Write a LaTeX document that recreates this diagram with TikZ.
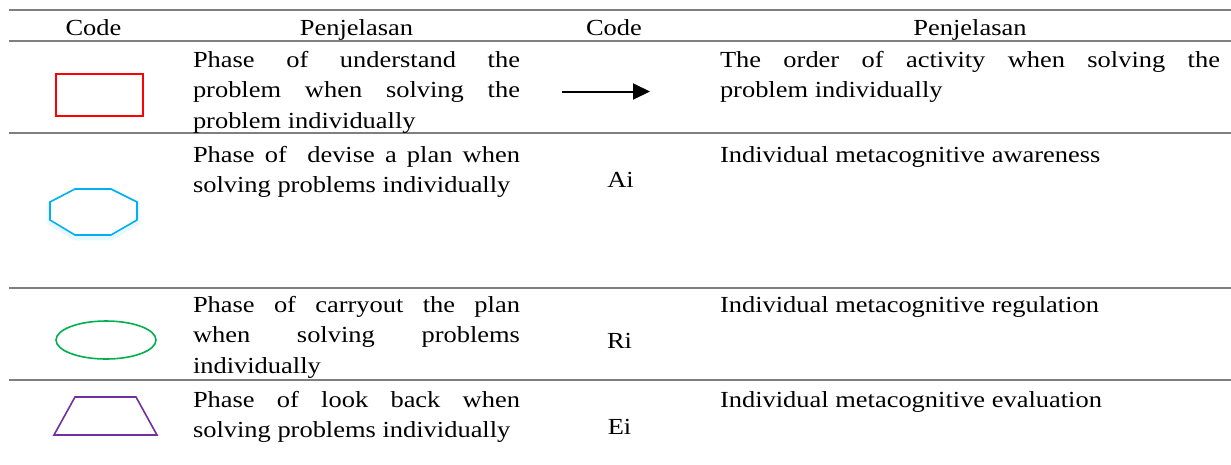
\documentclass[tikz,border=0pt]{standalone}
\usepackage{fontspec}
\setmainfont{Liberation Serif}[FakeStretch=1.15]
\usetikzlibrary{arrows.meta}
\definecolor{rulegray}{HTML}{7F7F7F}
\definecolor{codered}{HTML}{FF0000}
\definecolor{codeblue}{HTML}{00B0F0}
\definecolor{codegreen}{HTML}{00B050}
\definecolor{codepurple}{HTML}{7030A0}
\begin{document}
\begin{tikzpicture}[x=1pt,y=-1pt,
  every node/.style={inner sep=0pt, outer sep=0pt, font=\fontsize{23}{30.5}\selectfont},
  rulestyle/.style={draw=rulegray, line width=2pt},
  headtext/.style={anchor=base},
  desc/.style={anchor=base west, text width=327pt, align=justify},
  descwide/.style={anchor=base west, text width=500pt, align=justify},
  codetext/.style={anchor=base},
  shapeline/.style={line width=1.6pt}
]
\useasboundingbox (0,0) rectangle (1231,464);

% rules
\foreach \yy in {10,41,133,288,380} \draw[rulestyle] (9,\yy) -- (1231,\yy);

% header
\node[headtext] (h1) at (93.5,35) {Code};
\node[headtext] (h2) at (356.5,35) {Penjelasan};
\node[headtext] (h3) at (614,35) {Code};
\node[headtext] (h4) at (970,35) {Penjelasan};

% row 1
\draw[shapeline, codered] (56,74) rectangle (143,116);
\node[desc] (d1) at (193,67) {Phase of understand the\linebreak problem when solving the\linebreak problem individually};
\coordinate (arS) at (562,91.5);
\coordinate (arE) at (650,91.5);
\draw[line width=2pt, -{Triangle[length=17pt,width=16pt]}] (arS) -- (arE);
\node[descwide] (e1) at (720,67) {The order of activity when solving the\linebreak problem individually};

% row 2
\foreach \o/\w in {3/4,2/7}{
  \draw[codeblue, opacity=0.05, line width=\w pt, line join=round] (75,189+\o) -- (111,189+\o) -- (137,202+\o) -- (137,220+\o) -- (111,235+\o) -- (75,235+\o) -- (50,220+\o) -- (50,202+\o) -- cycle;
}
\draw[shapeline, codeblue, fill=white, line join=miter] (75,189) -- (111,189) -- (137,202) -- (137,220) -- (111,235) -- (75,235) -- (50,220) -- (50,202) -- cycle;
\node[desc] (d2) at (193,162) {Phase of \ devise a plan when\linebreak solving problems individually};
\node[codetext] (c2) at (620.5,187) {Ai};
\node[anchor=base west] (e2) at (720,162) {Individual metacognitive awareness};

% row 3
\draw[shapeline, codegreen] (106,340) ellipse [x radius=50, y radius=19];
\node[desc] (d3) at (193,312) {Phase of carryout the plan\linebreak when solving problems\linebreak individually};
\node[codetext] (c3) at (619.5,348) {Ri};
\node[anchor=base west] (e3) at (720,312) {Individual metacognitive regulation};

% row 4
\draw[shapeline, codepurple, line join=miter] (54,435) -- (75,397) -- (136,397) -- (157,435) -- cycle;
\node[desc] (d4) at (193,407) {Phase of look back when\linebreak solving problems individually};
\node[codetext] (c4) at (619.5,434) {Ei};
\node[anchor=base west] (e4) at (720,407) {Individual metacognitive evaluation};
\end{tikzpicture}
\end{document}
